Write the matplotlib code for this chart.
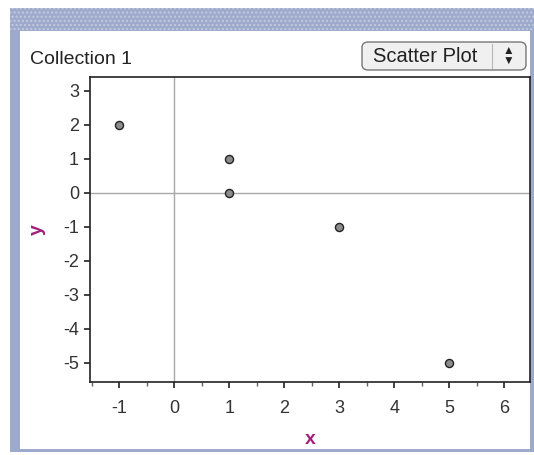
import numpy as np
import matplotlib.pyplot as plt
from matplotlib.patches import Rectangle, FancyBboxPatch

plt.rcParams['font.family'] = ['Liberation Sans', 'DejaVu Sans']
plt.rcParams['axes.unicode_minus'] = False

# points of Collection 1
xs = [-1, 1, 1, 3, 5]
ys = [2, 1, 0, -1, -5]
xticks = [-1, 0, 1, 2, 3, 4, 5, 6]
yticks = [3, 2, 1, 0, -1, -2, -3, -4, -5]

W, H = 534, 455
fig = plt.figure(figsize=(W / 100, H / 100), dpi=100)

def fx(px):
    return px / W

def fy(py):
    return 1 - py / H

# window frame
frame = '#9eaacb'
fig.patches.append(Rectangle((fx(10), fy(452)), fx(524), 444 / H, transform=fig.transFigure,
                             facecolor=frame, edgecolor='none', zorder=0))
fig.patches.append(Rectangle((fx(10), fy(30)), fx(524), 22 / H, transform=fig.transFigure,
                             facecolor=frame, edgecolor='#c3cbe2', hatch='....', lw=0, zorder=0))
fig.patches.append(Rectangle((fx(20), fy(449)), fx(510), 418 / H, transform=fig.transFigure,
                             facecolor='white', edgecolor='none', zorder=1))

fig.text(fx(30), fy(60), 'Collection 1', fontsize=14, color='#222222', va='center', ha='left')

# "Scatter Plot" popup button
fig.patches.append(FancyBboxPatch((fx(362), fy(70)), fx(164), 28 / H, transform=fig.transFigure,
                                  boxstyle='round,pad=0,rounding_size=0.012',
                                  facecolor='#f0f0f0', edgecolor='#777777', lw=1, zorder=2))
fig.add_artist(plt.Line2D([fx(492), fx(492)], [fy(44), fy(68)], transform=fig.transFigure,
                          color='#b8b8b8', lw=0.8, zorder=3))
fig.text(fx(373), fy(56), 'Scatter Plot', fontsize=14.5, color='#222222', va='center', ha='left', zorder=4)
fig.text(fx(508), fy(51), '▲', fontsize=8.5, color='#222222', va='center', ha='center', zorder=4)
fig.text(fx(508), fy(62), '▼', fontsize=8.5, color='#222222', va='center', ha='center', zorder=4)

ax = fig.add_axes([fx(90), fy(382), fx(440), 305 / H])
ax.set_zorder(5)
ax.set_xlim(-1.53, 6.47)
ax.set_ylim(-5.56, 3.41)
ax.axhline(0, color='#a8a8a8', lw=1, zorder=1)
ax.axvline(0, color='#a8a8a8', lw=1, zorder=1)
ax.scatter(xs, ys, s=34, facecolor='#8c8c8c', edgecolor='#222222', linewidths=1, zorder=3)

ax.set_xticks(xticks)
ax.set_xticks(np.arange(-1.5, 6.5, 0.5), minor=True)
ax.set_yticks(yticks)
ax.tick_params(axis='both', which='major', length=4, width=1.2, color='#222222',
               labelsize=13, labelcolor='#333333')
ax.tick_params(axis='x', which='major', pad=9)
ax.tick_params(axis='y', which='major', pad=4)
ax.tick_params(axis='x', which='minor', length=3, width=1, color='#666666')
for s in ax.spines.values():
    s.set_linewidth(1.2)
    s.set_color('#222222')

ax.set_xlabel('x', fontsize=14, color='#a0207a', labelpad=10, fontweight='bold')
ax.set_ylabel('y', fontsize=14, color='#a0207a', labelpad=12, fontweight='bold')

fig.savefig('out.png', dpi=100)
